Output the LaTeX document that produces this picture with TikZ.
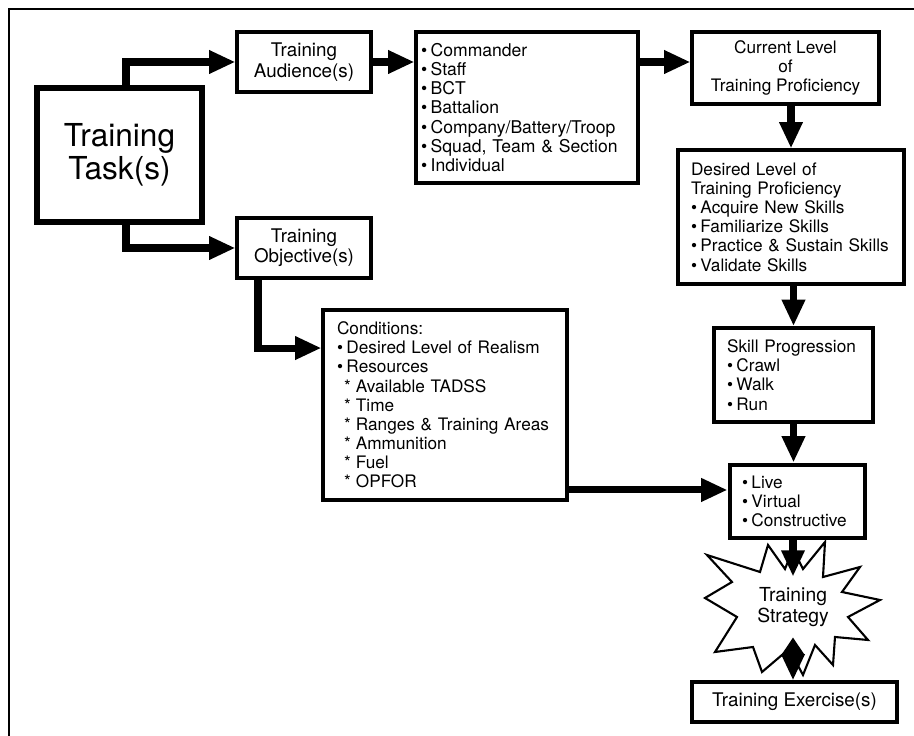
\documentclass[tikz,border=0pt]{standalone}
\usepackage{fontspec}
\setmainfont{TeX Gyre Heros}
\usetikzlibrary{arrows.meta,calc}
\newcommand{\itm}{\textbullet\hspace{0.2em}}
\newcommand{\subitm}{\hspace*{4pt}*\hspace{0.3em}}
\hyphenpenalty=10000
\begin{document}
\begin{tikzpicture}[x=0.02cm, y=-0.02cm, >={Triangle[length=15pt,width=12.5pt]},
  box/.style={draw, line width=1.8pt, inner sep=0pt, align=center, font=\fontsize{10.7}{11.6}\selectfont},
  lst/.style={box, align=left, font=\fontsize{9.8}{10.9}\selectfont},
  arr/.style={->, line width=4pt},
  burst/.style={line width=1.2pt, line join=miter}]
  \useasboundingbox (0,0) rectangle (914,736);
  \coordinate (fsw) at (9,736); \coordinate (fne) at (914,9);
  \draw[line width=1.7pt] (fsw) |- (fne);

  \node[box, line width=3.2pt, minimum width=3.3cm, minimum height=2.68cm, font=\fontsize{18}{18.5}\selectfont] (task) at (119.5,155) {Training\\Task(s)};
  \node[box, minimum width=2.68cm, minimum height=1.2cm] (aud) at (304,62) {Training\\Audience(s)};
  \node[box, minimum width=2.68cm, minimum height=1.2cm] (obj) at (304,248) {Training\\Objective(s)};
  \node[lst, font=\fontsize{10}{10.9}\selectfont, inner xsep=0.1cm, text width=4.24cm, minimum height=3.02cm] (ech) at (527,107.5)
    {\itm Commander\\\itm Staff\\\itm BCT\\\itm Battalion\\\itm Company/Battery/Troop\\\itm Squad, Team \& Section\\\itm Individual};
  \node[box, font=\fontsize{9.8}{10.9}\selectfont, minimum width=3.74cm, minimum height=1.44cm] (cur) at (785.5,68) {Current Level\\of\\Training Proficiency};
  \node[lst, inner xsep=0.26cm, text width=4.0cm, minimum height=2.68cm] (des) at (791,217)
    {Desired Level of\\Training Proficiency\\\itm Acquire New Skills\\\itm Familiarize Skills\\\itm Practice \& Sustain Skills\\\itm Validate Skills};
  \node[lst, inner xsep=0.28cm, text width=4.32cm, minimum height=3.8cm] (cond) at (445,405)
    {Conditions:\\\itm Desired Level of Realism\\\itm Resources\\\subitm Available TADSS\\\subitm Time\\\subitm Ranges \& Training Areas\\\subitm Ammunition\\\subitm Fuel\\\subitm OPFOR};
  \node[lst, line width=2.2pt, inner xsep=0.26cm, text width=2.66cm, minimum height=1.88cm] (skill) at (793.5,375)
    {Skill Progression\\\itm Crawl\\\itm Walk\\\itm Run};
  \node[lst, line width=2.8pt, inner xsep=0.24cm, text width=2.22cm, minimum height=1.46cm] (live) at (797.5,501.5)
    {\itm Live\\\itm Virtual\\\itm Constructive};
  \node[font=\fontsize{11}{12}\selectfont, align=center, inner sep=0pt, minimum height=1.2cm] (strat) at (793,607) {Training\\Strategy};
  \node[box, minimum width=4.1cm, minimum height=0.8cm] (exer) at (794.5,702) {Training Exercise(s)};

  \draw[burst] (strat.center) +(-86,-52)
    \foreach \dx/\dy in {-33/-35,-25/-62,-8/-38,0/-58,10/-38,32/-65,30/-30,67/-40,49/-15,87/-7,55/10,75/33,42/30,40/58,22/38,10/68,-4/42,-31/65,-40/40,-78/45,-56/10,-88/-9,-61/-25}
    { -- +(\dx,\dy)} -- cycle;

  \coordinate (cl) at ($(cond.north east)!0.94!(cond.south east)$);
  \draw[arr] ($(task.north)+(6.5,0)$) |- (aud.west);
  \draw[arr] ($(task.south)+(6.5,0)$) |- (obj.west);
  \draw[arr] (aud.east) -- (aud.east -| ech.west);
  \draw[arr] (aud.east -| ech.east) -- (aud.east -| cur.west);
  \draw[arr] (cur.south -| des.north) -- (des.north);
  \draw[arr] (des.south -| skill.north) -- (skill.north);
  \draw[arr] (skill.south) -- (skill.south |- live.north);
  \draw[arr] ($(obj.south)+(-46,0)$) |- ($(cond.north west)!0.205!(cond.south west)$);
  \draw[arr] (cl) -- (cl -| live.west);
  \draw[arr] (live.south -| strat.north) -- (strat.north);
  \draw[line width=4pt, {Triangle[length=10pt,width=12.5pt]}-{Triangle[length=15pt,width=12.5pt]}] (strat.south) -- (strat.south |- exer.north);
\end{tikzpicture}
\end{document}
